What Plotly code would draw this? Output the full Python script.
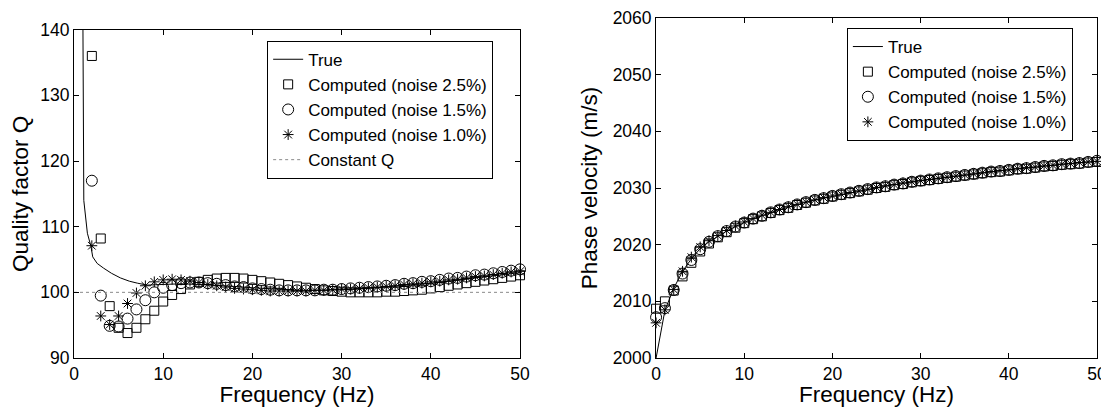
"""Q and phase velocity recovered from noisy data, two panels."""

import plotly.graph_objects as go

# ---- left panel: quality factor ----
FREQ_Q = list(range(2, 51))
Q_NOISE_25 = [136.0, 108.2, 97.9, 94.6, 93.8, 94.6, 95.9, 97.2, 98.6, 99.6,
              100.5, 101.2, 101.6, 101.9, 102.1, 102.2, 102.2, 102.1, 101.9, 101.7,
              101.5, 101.3, 101.1, 100.9, 100.7, 100.5, 100.3, 100.2, 100.1, 100.0,
              100.0, 100.0, 100.0, 100.1, 100.1, 100.2, 100.3, 100.4, 100.6, 100.8,
              101.0, 101.2, 101.4, 101.6, 101.8, 102.0, 102.2, 102.4, 102.6]
Q_NOISE_15 = [117.0, 99.5, 94.9, 94.8, 96.0, 97.4, 98.8, 100.0, 100.7, 101.1,
              101.4, 101.5, 101.5, 101.4, 101.3, 101.1, 100.9, 100.8, 100.6, 100.5,
              100.4, 100.3, 100.3, 100.3, 100.3, 100.3, 100.4, 100.4, 100.5, 100.6,
              100.7, 100.8, 100.9, 101.0, 101.1, 101.3, 101.4, 101.6, 101.7, 101.9,
              102.1, 102.2, 102.4, 102.6, 102.7, 102.9, 103.1, 103.3, 103.5]
Q_NOISE_10 = [107.1, 96.4, 95.1, 96.4, 98.3, 99.9, 101.0, 101.6, 101.9, 102.0,
              101.9, 101.7, 101.5, 101.2, 101.0, 100.8, 100.6, 100.5, 100.4, 100.3,
              100.2, 100.2, 100.2, 100.2, 100.2, 100.3, 100.3, 100.4, 100.5, 100.5,
              100.6, 100.7, 100.8, 100.9, 101.0, 101.2, 101.3, 101.4, 101.6, 101.7,
              101.9, 102.0, 102.2, 102.4, 102.5, 102.7, 102.9, 103.1, 103.2]
FREQ_Q_TRUE = [1.0, 1.1, 1.5, 1.9, 2.1, 2.6, 3.3, 4.2, 5.2, 6.2, 7.1, 8.2, 10, 12, 14,
               16, 18, 20, 22, 24, 26, 28, 30, 32, 34, 36, 38, 40, 42, 44, 46, 48, 50]
Q_TRUE = [141, 114, 109, 107, 105.4, 104.4, 103.7, 102.9, 102.2, 101.7, 101.4, 101.1,
          101.2, 101.3, 101.2, 101.1, 100.9, 100.7, 100.5, 100.4, 100.3, 100.3, 100.4,
          100.5, 100.7, 100.9, 101.1, 101.4, 101.7, 102.0, 102.4, 102.7, 103.0]
FREQ_CONST = [0, 50]
Q_CONST = [100, 100]

# ---- right panel: phase velocity ----
FREQ_V = list(range(0, 51))
V_TRUE = [2000.0, 2008.4, 2012.3, 2015.3, 2017.5, 2019.3, 2020.5, 2021.5, 2022.4, 2023.2,
          2023.9, 2024.6, 2025.1, 2025.7, 2026.2, 2026.6, 2027.1, 2027.5, 2027.9, 2028.2,
          2028.6, 2028.9, 2029.2, 2029.5, 2029.8, 2030.1, 2030.3, 2030.6, 2030.8, 2031.1,
          2031.3, 2031.5, 2031.7, 2031.9, 2032.1, 2032.3, 2032.5, 2032.7, 2032.9, 2033.0,
          2033.2, 2033.4, 2033.5, 2033.7, 2033.9, 2034.0, 2034.2, 2034.3, 2034.4, 2034.6,
          2034.7]
V_NOISE_25 = [2008.7, 2010.0, 2011.9, 2014.4, 2016.8, 2018.8, 2020.2, 2021.3, 2022.2, 2023.0,
              2023.8, 2024.5, 2025.0, 2025.6, 2026.1, 2026.5, 2027.0, 2027.4, 2027.8, 2028.1,
              2028.5, 2028.8, 2029.1, 2029.4, 2029.7, 2030.0, 2030.2, 2030.5, 2030.7, 2031.0,
              2031.2, 2031.4, 2031.6, 2031.8, 2032.0, 2032.2, 2032.4, 2032.6, 2032.8, 2032.9,
              2033.1, 2033.3, 2033.4, 2033.6, 2033.8, 2033.9, 2034.1, 2034.2, 2034.3, 2034.5,
              2034.6]
V_NOISE_15 = [2007.2, 2008.8, 2012.0, 2014.9, 2017.3, 2019.2, 2020.5, 2021.5, 2022.4, 2023.2,
              2023.9, 2024.6, 2025.1, 2025.7, 2026.2, 2026.6, 2027.1, 2027.5, 2027.9, 2028.2,
              2028.6, 2028.9, 2029.2, 2029.5, 2029.8, 2030.1, 2030.3, 2030.6, 2030.8, 2031.1,
              2031.3, 2031.5, 2031.7, 2031.9, 2032.1, 2032.3, 2032.5, 2032.7, 2032.9, 2033.0,
              2033.2, 2033.4, 2033.5, 2033.7, 2033.9, 2034.0, 2034.2, 2034.3, 2034.4, 2034.6,
              2034.8]
V_NOISE_10 = [2006.2, 2008.5, 2012.1, 2015.3, 2017.8, 2019.6, 2020.7, 2021.6, 2022.5, 2023.3,
              2024.0, 2024.6, 2025.2, 2025.7, 2026.2, 2026.7, 2027.1, 2027.5, 2027.9, 2028.3,
              2028.6, 2028.9, 2029.2, 2029.5, 2029.8, 2030.1, 2030.4, 2030.6, 2030.9, 2031.1,
              2031.3, 2031.5, 2031.7, 2031.9, 2032.1, 2032.3, 2032.5, 2032.7, 2032.9, 2033.1,
              2033.2, 2033.4, 2033.6, 2033.7, 2033.9, 2034.0, 2034.2, 2034.3, 2034.5, 2034.6,
              2034.7]

BLACK = "#000000"
FONT = "Liberation Sans"
NOISE_LABELS = ["Computed (noise 2.5%)", "Computed (noise 1.5%)", "Computed (noise 1.0%)"]
SYMBOLS = [("square-open", 9), ("circle-open", 11), ("asterisk-open", 9)]


def add_panel(fig, x_true, y_true, x_pts, series, xa, ya, legend):
    fig.add_trace(go.Scatter(
        x=x_true, y=y_true, mode="lines", name="True",
        line=dict(color=BLACK, width=1), xaxis=xa, yaxis=ya, legend=legend,
    ))
    for ys, label, (sym, size) in zip(series, NOISE_LABELS, SYMBOLS):
        fig.add_trace(go.Scatter(
            x=x_pts, y=ys, mode="markers", name=label, cliponaxis=False,
            marker=dict(symbol=sym, size=size, color=BLACK, line=dict(width=1, color=BLACK)),
            xaxis=xa, yaxis=ya, legend=legend,
        ))


fig = go.Figure()
add_panel(fig, FREQ_Q_TRUE, Q_TRUE, FREQ_Q, [Q_NOISE_25, Q_NOISE_15, Q_NOISE_10],
          "x", "y", "legend")
fig.add_trace(go.Scatter(
    x=FREQ_CONST, y=Q_CONST, mode="lines", name="Constant Q",
    line=dict(color="#8a8a8a", width=1, dash="dot"), xaxis="x", yaxis="y", legend="legend",
))
add_panel(fig, FREQ_V, V_TRUE, FREQ_V, [V_NOISE_25, V_NOISE_15, V_NOISE_10],
          "x2", "y2", "legend2")

axis_common = dict(
    showline=True, linecolor=BLACK, linewidth=1, mirror="ticks",
    ticks="inside", ticklen=5, tickcolor=BLACK, showgrid=False, zeroline=False,
    tickfont=dict(size=17.5, color=BLACK), automargin=False,
)
legend_common = dict(
    bgcolor="white", bordercolor=BLACK, borderwidth=1,
    font=dict(size=17, color=BLACK), xanchor="left", yanchor="top",
    tracegroupgap=0, itemwidth=30,
)
title_font = dict(size=22.5)

# page body adds an 8 px offset, so the figure is 8 px smaller than the window
fig.update_layout(
    width=1101, height=399,
    font=dict(family=FONT, color=BLACK),
    plot_bgcolor="white", paper_bgcolor="white",
    margin=dict(l=65.5, r=12, t=10.3, b=48.7),
    xaxis=dict(domain=[0, 0.436], range=[0, 50], dtick=10,
               title=dict(text="Frequency (Hz)", font=title_font, standoff=2),
               anchor="y", **axis_common),
    yaxis=dict(domain=[0, 0.9656], range=[90, 140], dtick=10,
               title=dict(text="Quality factor Q", font=title_font, standoff=8),
               anchor="x", **axis_common),
    xaxis2=dict(domain=[0.569, 1.0], range=[0, 50], dtick=10,
                title=dict(text="Frequency (Hz)", font=title_font, standoff=2),
                anchor="y2", **axis_common),
    yaxis2=dict(domain=[0, 1.0], range=[2000, 2060], dtick=10,
                title=dict(text="Phase velocity (m/s)", font=title_font, standoff=8),
                anchor="x2", **axis_common),
    legend=dict(x=0.1888, y=0.9332, **legend_common),
    legend2=dict(x=0.7555, y=0.9706, **legend_common),
)

fig.write_html("out.html")
